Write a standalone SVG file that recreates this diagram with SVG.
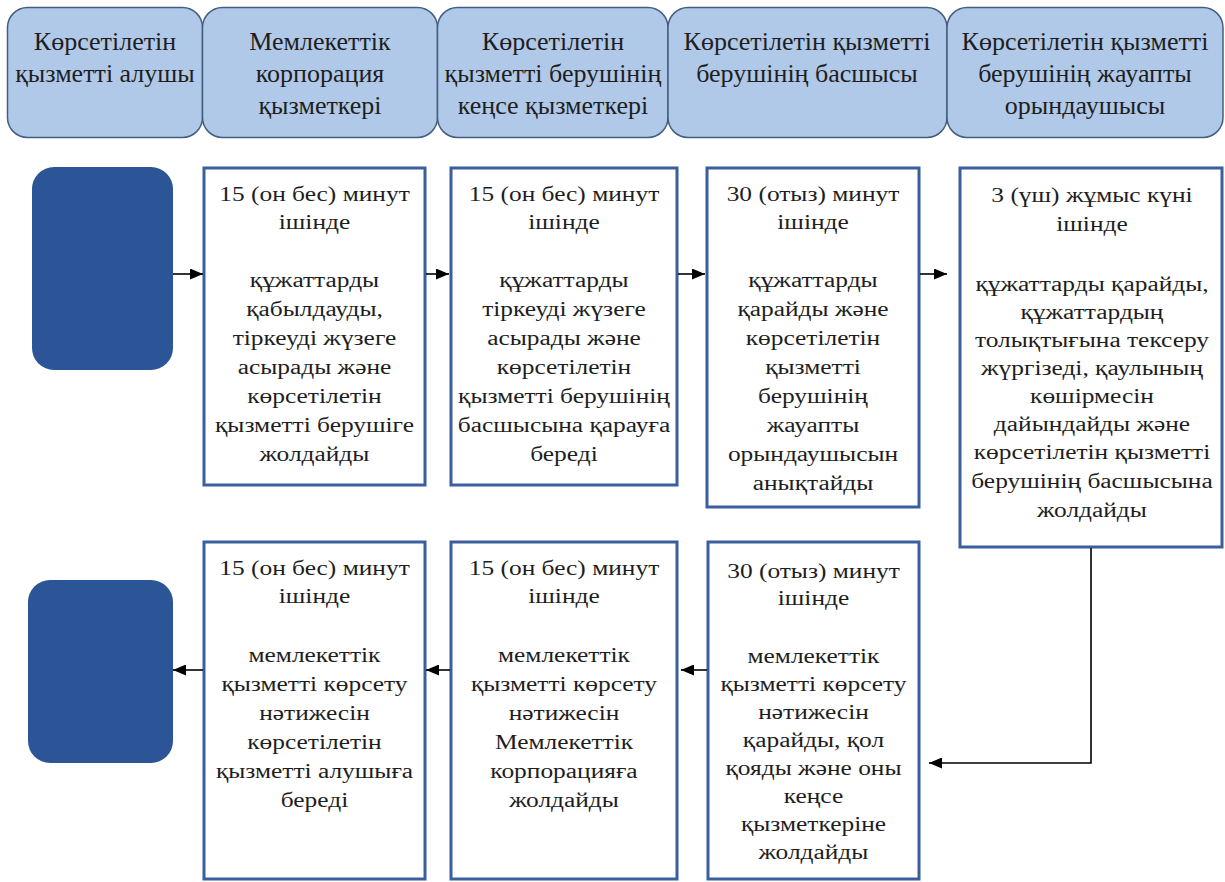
<svg xmlns="http://www.w3.org/2000/svg" width="1225" height="882" viewBox="0 0 1225 882">
<style>
.hdr{fill:#B1C9E8;stroke:#445E82;stroke-width:1.5}
.blob{fill:#2C5597;stroke:none}
.box{fill:#FFFFFF;stroke:#3B5E9E;stroke-width:3}
.ht{font-family:"Liberation Serif","Times New Roman",serif;font-size:26px;fill:#1E1E1E;text-anchor:middle}
.bt{font-family:"Liberation Serif","Times New Roman",serif;font-size:20px;fill:#1E1E1E;text-anchor:middle}
.con{stroke:#000;stroke-width:1.6;fill:none;marker-end:url(#ah)}
</style>
<defs>
<marker id="ah" markerWidth="13" markerHeight="11" refX="13" refY="5.5" orient="auto" markerUnits="userSpaceOnUse"><path d="M0,0 L13,5.5 L0,11 z" fill="#000"/></marker>
</defs>
<rect width="1225" height="882" fill="#FFFFFF"/>

<g id="h1"><rect class="hdr" x="7.5" y="7.5" width="195" height="130" rx="20"/>
<text class="ht"><tspan x="105" y="50">Көрсетілетін</tspan><tspan x="105" y="82">қызметті алушы</tspan></text></g>
<g id="h2"><rect class="hdr" x="202.5" y="7.5" width="235" height="130" rx="20"/>
<text class="ht"><tspan x="320" y="50">Мемлекеттік</tspan><tspan x="320" y="82">корпорация</tspan><tspan x="320" y="114">қызметкері</tspan></text></g>
<g id="h3"><rect class="hdr" x="437.5" y="7.5" width="230.5" height="130" rx="20"/>
<text class="ht"><tspan x="553" y="50">Көрсетілетін</tspan><tspan x="553" y="82">қызметті берушінің</tspan><tspan x="553" y="114">кеңсе қызметкері</tspan></text></g>
<g id="h4"><rect class="hdr" x="668" y="7.5" width="279" height="130" rx="20"/>
<text class="ht"><tspan x="807" y="50">Көрсетілетін қызметті</tspan><tspan x="807" y="82">берушінің басшысы</tspan></text></g>
<g id="h5"><rect class="hdr" x="947" y="7.5" width="276" height="130" rx="20"/>
<text class="ht"><tspan x="1085" y="50">Көрсетілетін қызметті</tspan><tspan x="1085" y="82">берушінің жауапты</tspan><tspan x="1085" y="114">орындаушысы</tspan></text></g>

<g id="start"><rect class="blob" x="32" y="167" width="141" height="203" rx="22"/></g>
<g id="end"><rect class="blob" x="28" y="580" width="145" height="183" rx="22"/></g>

<g id="a1"><rect class="box" x="204" y="168" width="221" height="317"/>
<text class="bt" transform="matrix(1.27 0 0 1 -84.915 0)"><tspan x="314.5" y="201">15 (он бес) минут</tspan><tspan x="314.5" y="229">ішінде</tspan><tspan x="314.5" y="287">құжаттарды</tspan><tspan x="314.5" y="316">қабылдауды,</tspan><tspan x="314.5" y="345">тіркеуді жүзеге</tspan><tspan x="314.5" y="374">асырады және</tspan><tspan x="314.5" y="403">көрсетілетін</tspan><tspan x="314.5" y="432">қызметті берушіге</tspan><tspan x="314.5" y="461">жолдайды</tspan></text></g>

<g id="b1"><rect class="box" x="451" y="168" width="226" height="317"/>
<text class="bt" transform="matrix(1.27 0 0 1 -152.28 0)"><tspan x="564" y="201">15 (он бес) минут</tspan><tspan x="564" y="229">ішінде</tspan><tspan x="564" y="287">құжаттарды</tspan><tspan x="564" y="316">тіркеуді жүзеге</tspan><tspan x="564" y="345">асырады және</tspan><tspan x="564" y="374">көрсетілетін</tspan><tspan x="564" y="403">қызметті берушінің</tspan><tspan x="564" y="432">басшысына қарауға</tspan><tspan x="564" y="461">береді</tspan></text></g>

<g id="c1"><rect class="box" x="707" y="168" width="212" height="339"/>
<text class="bt" transform="matrix(1.27 0 0 1 -219.51 0)"><tspan x="813" y="201">30 (отыз) минут</tspan><tspan x="813" y="229">ішінде</tspan><tspan x="813" y="287">құжаттарды</tspan><tspan x="813" y="316">қарайды және</tspan><tspan x="813" y="345">көрсетілетін</tspan><tspan x="813" y="374">қызметті</tspan><tspan x="813" y="403">берушінің</tspan><tspan x="813" y="432">жауапты</tspan><tspan x="813" y="461">орындаушысын</tspan><tspan x="813" y="490">анықтайды</tspan></text></g>

<g id="d1"><rect class="box" x="960" y="168" width="262" height="379"/>
<text class="bt" transform="matrix(1.27 0 0 1 -294.84 0)"><tspan x="1092" y="202">3 (үш) жұмыс күні</tspan><tspan x="1092" y="231">ішінде</tspan><tspan x="1092" y="291">құжаттарды қарайды,</tspan><tspan x="1092" y="319">құжаттардың</tspan><tspan x="1092" y="347">толықтығына тексеру</tspan><tspan x="1092" y="375">жүргізеді, қаулының</tspan><tspan x="1092" y="403">көшірмесін</tspan><tspan x="1092" y="431">дайындайды және</tspan><tspan x="1092" y="459">көрсетілетін қызметті</tspan><tspan x="1092" y="488">берушінің басшысына</tspan><tspan x="1092" y="517">жолдайды</tspan></text></g>

<g id="a2"><rect class="box" x="204" y="542" width="221" height="337"/>
<text class="bt" transform="matrix(1.27 0 0 1 -84.915 0)"><tspan x="314.5" y="575">15 (он бес) минут</tspan><tspan x="314.5" y="603">ішінде</tspan><tspan x="314.5" y="662">мемлекеттік</tspan><tspan x="314.5" y="691">қызметті көрсету</tspan><tspan x="314.5" y="720">нәтижесін</tspan><tspan x="314.5" y="749">көрсетілетін</tspan><tspan x="314.5" y="778">қызметті алушыға</tspan><tspan x="314.5" y="807">береді</tspan></text></g>

<g id="b2"><rect class="box" x="451" y="542" width="226" height="337"/>
<text class="bt" transform="matrix(1.27 0 0 1 -152.28 0)"><tspan x="564" y="575">15 (он бес) минут</tspan><tspan x="564" y="603">ішінде</tspan><tspan x="564" y="662">мемлекеттік</tspan><tspan x="564" y="691">қызметті көрсету</tspan><tspan x="564" y="720">нәтижесін</tspan><tspan x="564" y="749">Мемлекеттік</tspan><tspan x="564" y="778">корпорацияға</tspan><tspan x="564" y="807">жолдайды</tspan></text></g>

<g id="c2"><rect class="box" x="708" y="542" width="211" height="337"/>
<text class="bt" transform="matrix(1.27 0 0 1 -219.645 0)"><tspan x="813.5" y="578">30 (отыз) минут</tspan><tspan x="813.5" y="605">ішінде</tspan><tspan x="813.5" y="663">мемлекеттік</tspan><tspan x="813.5" y="691">қызметті көрсету</tspan><tspan x="813.5" y="719">нәтижесін</tspan><tspan x="813.5" y="747">қарайды, қол</tspan><tspan x="813.5" y="775">қояды және оны</tspan><tspan x="813.5" y="803">кеңсе</tspan><tspan x="813.5" y="831">қызметкеріне</tspan><tspan x="813.5" y="859">жолдайды</tspan></text></g>

<g id="connectors">
<line class="con" x1="173" y1="274" x2="203" y2="274"/>
<line class="con" x1="426" y1="274" x2="449" y2="274"/>
<line class="con" x1="678" y1="274" x2="705" y2="274"/>
<line class="con" x1="920" y1="274" x2="947" y2="274"/>
<path class="con" d="M1091,548 L1091,763 L929,763"/>
<line class="con" x1="707" y1="670" x2="681" y2="670"/>
<line class="con" x1="450" y1="670" x2="426" y2="670"/>
<line class="con" x1="203" y1="670" x2="173" y2="670"/>
</g>
</svg>
